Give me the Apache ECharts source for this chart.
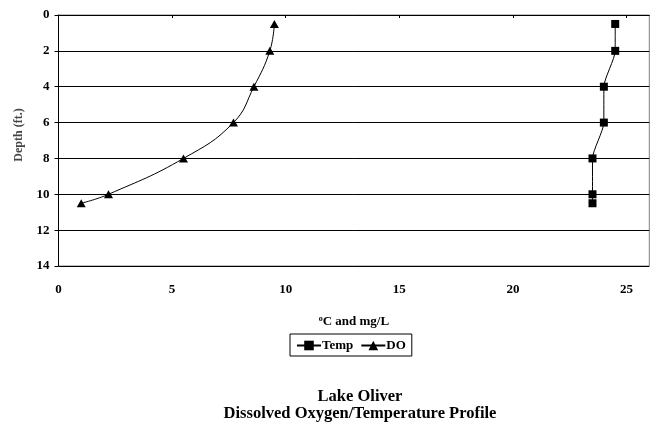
<!DOCTYPE html>
<html>
<head>
<meta charset="utf-8">
<script src="https://cdn.jsdelivr.net/npm/echarts@6/dist/echarts.min.js"></script>
<style>
html,body{margin:0;padding:0;background:#fff;}
#chart{width:662px;height:422px;}
</style>
</head>
<body>
<div id="chart"></div>
<script>
// Data
const depthTemp = [0.5, 2, 4, 6, 8, 10, 10.5];
const tempValues = [24.5, 24.5, 24.0, 24.0, 23.5, 23.5, 23.5];
const depthDO = [0.5, 2, 4, 6, 8, 10, 10.5];
const doValues = [9.5, 9.3, 8.6, 7.7, 5.5, 2.2, 1.0];
const xTicks = [0, 5, 10, 15, 20, 25];
const yTicks = [0, 2, 4, 6, 8, 10, 12, 14];
const titleLines = ['Lake Oliver', 'Dissolved Oxygen/Temperature Profile'];
const yAxisTitle = 'Depth (ft.)';

const FONT = '"Liberation Serif", "Times New Roman", serif';

const chart = echarts.init(document.getElementById('chart'), null, {renderer: 'canvas'});
const toPairs = (xs, ys) => xs.map((x, i) => [x, ys[i]]);

chart.setOption({
  animation: false,
  backgroundColor: '#fff',
  grid: {
    left: 58.5, top: 15, right: 12.7, bottom: 156,
    show: true, borderColor: '#808080', borderWidth: 1, backgroundColor: 'transparent'
  },
  xAxis: {
    type: 'value', min: 0, max: 26, interval: 5,
    name: '{sup|o}{t|C and mg/L}',
    nameLocation: 'middle', nameGap: 49,
    nameTextStyle: {
      rich: {
        sup: {fontFamily: FONT, fontWeight: 'bold', fontSize: 8, color: '#000', verticalAlign: 'top', padding: [0,0,6,0]},
        t: {fontFamily: FONT, fontWeight: 'bold', fontSize: 13, color: '#000'}
      }
    },
    axisLine: {show: true, lineStyle: {color: '#000', width: 1}},
    axisTick: {show: true, length: 3, inside: false, customValues: xTicks, lineStyle: {color: '#000'}},
    axisLabel: {customValues: xTicks, fontFamily: FONT, fontWeight: 'bold', fontSize: 13, color: '#000', margin: 17},
    splitLine: {show: false}
  },
  yAxis: {
    type: 'value', min: 0, max: 14, interval: 2, inverse: true,
    axisLine: {show: true, lineStyle: {color: '#000', width: 1}},
    axisTick: {show: true, length: 4, lineStyle: {color: '#000'}},
    axisLabel: {fontFamily: FONT, fontWeight: 'bold', fontSize: 13, color: '#000', margin: 9},
    splitLine: {show: true, lineStyle: {color: ['#808080', '#000', '#000', '#000', '#000', '#000', '#000', '#000'], width: 1}}
  },
  legend: {
    left: 290, top: 334,
    orient: 'horizontal',
    borderColor: '#000', borderWidth: 1, padding: [5, 6, 4, 6],
    itemGap: 7, itemWidth: 24, itemHeight: 12,
    textStyle: {fontFamily: FONT, fontWeight: 'bold', fontSize: 13, color: '#000', padding: [2, 0, 0, -4]},
    data: ['Temp', 'DO']
  },
  series: [
    {
      name: 'Temp', type: 'line', data: toPairs(tempValues, depthTemp),
      smooth: 0.2,
      symbol: 'rect', symbolSize: 8,
      lineStyle: {color: '#000', width: 1}, itemStyle: {color: '#000'}
    },
    {
      name: 'DO', type: 'line', data: toPairs(doValues, depthDO),
      smooth: 0.45,
      symbol: 'triangle', symbolSize: [9, 8],
      lineStyle: {color: '#000', width: 1}, itemStyle: {color: '#000'}
    }
  ],
  graphic: [
    {type: 'text', x: 360, y: 397, style: {text: titleLines[0], font: 'bold 16.5px ' + FONT, fill: '#000', textAlign: 'center', textVerticalAlign: 'middle'}},
    {type: 'text', x: 360, y: 414, style: {text: titleLines[1], font: 'bold 16.5px ' + FONT, fill: '#000', textAlign: 'center', textVerticalAlign: 'middle'}},
    {type: 'text', x: 19, y: 135, rotation: Math.PI / 2, style: {text: yAxisTitle, font: 'bold 12px ' + FONT, fill: '#444', textAlign: 'center', textVerticalAlign: 'middle'}}
  ]
});
</script>
</body>
</html>
